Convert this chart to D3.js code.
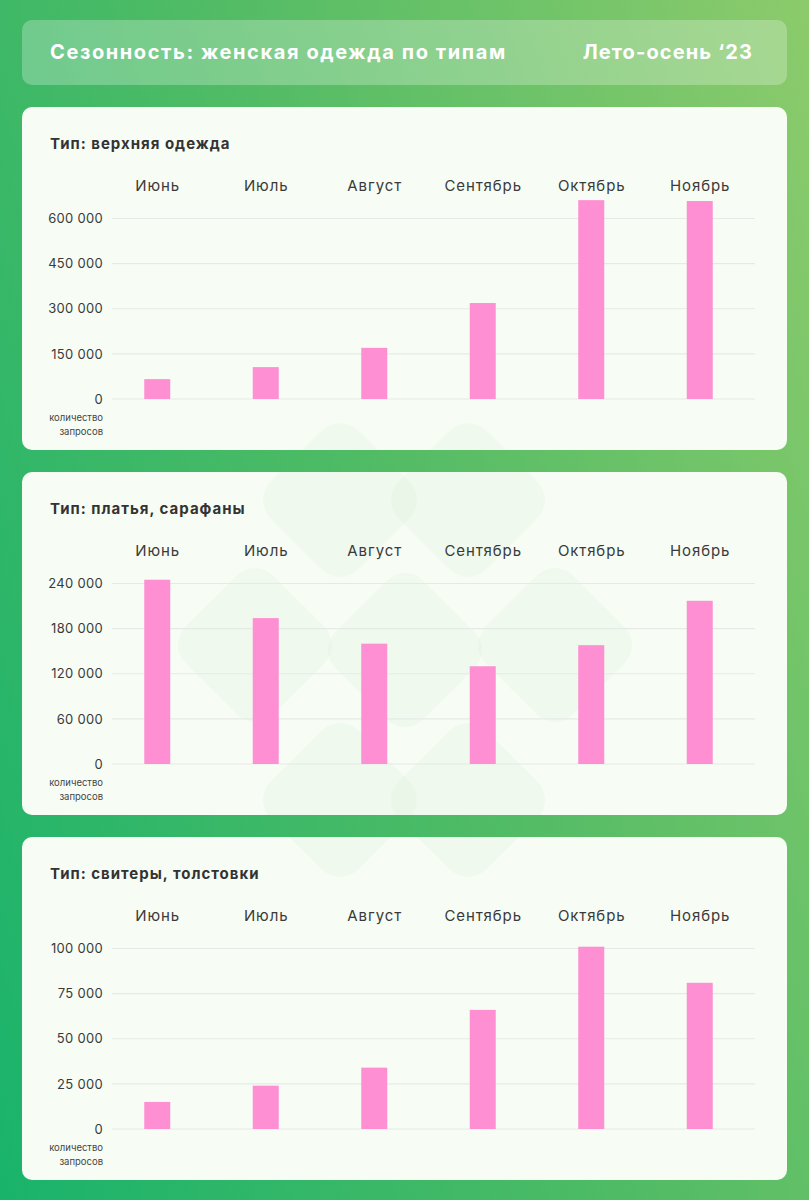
<!DOCTYPE html>
<html>
<head>
<meta charset="utf-8">
<script src="https://cdn.jsdelivr.net/npm/d3@7"></script>
<style>
  body { margin: 0; padding: 0; }
  svg { display: block; font-family: Inter, "Noto Sans", sans-serif; }
</style>
</head>
<body>
<svg id="chart" width="809" height="1200"></svg>
<script>
const months = ["Июнь", "Июль", "Август", "Сентябрь", "Октябрь", "Ноябрь"];

const titles = ["Тип: верхняя одежда", "Тип: платья, сарафаны", "Тип: свитеры, толстовки"];

// search counts
const outerwear = [66000, 106000, 170000, 319000, 661000, 658000];
const dresses = [245000, 194000, 160000, 130000, 158000, 217000];
const sweaters = [15000, 24000, 34000, 66000, 101000, 81000];

const ticksOuter = [0, 150000, 300000, 450000, 600000];
const ticksDress = [0, 60000, 120000, 180000, 240000];
const ticksSweat = [0, 25000, 50000, 75000, 100000];

const W = 809;
const H = 1200;
const CARD_X = 22;
const CARD_W = 765;
const CARD_H = 343;
const cardTops = [107, 472, 837];

const svg = d3.select("#chart");
const defs = svg.append("defs");

// background gradient
const bg = defs.append("linearGradient")
  .attr("id", "bg")
  .attr("gradientUnits", "userSpaceOnUse")
  .attr("x1", 0).attr("y1", 1200)
  .attr("x2", 1100).attr("y2", 800);
bg.append("stop").attr("offset", 0).attr("stop-color", "#19b36b");
bg.append("stop").attr("offset", 0.5).attr("stop-color", "#4fbb65");
bg.append("stop").attr("offset", 1).attr("stop-color", "#8ccb6c");

svg.append("rect").attr("width", W).attr("height", H).attr("fill", "url(#bg)");

// header
svg.append("rect")
  .attr("x", CARD_X).attr("y", 20)
  .attr("width", CARD_W).attr("height", 65)
  .attr("rx", 10)
  .attr("fill", "#ffffff")
  .attr("fill-opacity", 0.26);

svg.append("text")
  .attr("x", 50).attr("y", 59)
  .attr("fill", "#fff")
  .style("font-size", "20px")
  .style("font-weight", 700)
  .style("letter-spacing", "1.6px")
  .text("Сезонность: женская одежда по типам");

svg.append("text")
  .attr("x", 753).attr("y", 59)
  .attr("fill", "#fff")
  .attr("text-anchor", "end")
  .style("font-size", "20px")
  .style("font-weight", 700)
  .style("letter-spacing", "1.1px")
  .text("Лето-осень ‘23");

// clip for watermark, only over cards
const clip = defs.append("clipPath").attr("id", "cards");
cardTops.forEach((t) => {
  clip.append("rect")
    .attr("x", CARD_X).attr("y", t)
    .attr("width", CARD_W).attr("height", CARD_H)
    .attr("rx", 10);
});

// cards
svg.selectAll("rect.card")
  .data(cardTops)
  .join("rect")
  .attr("class", "card")
  .attr("x", CARD_X)
  .attr("y", (d) => d)
  .attr("width", CARD_W)
  .attr("height", CARD_H)
  .attr("rx", 10)
  .attr("fill", "#f7fdf5");

// faint logo in the middle (rounded diamonds)
const marks = [
  [340, 500], [468, 500],
  [255, 645], [405, 650], [555, 645],
  [340, 800], [468, 800],
];
const wm = svg.append("g").attr("clip-path", "url(#cards)");
wm.selectAll("rect")
  .data(marks)
  .join("rect")
  .attr("x", -62).attr("y", -62)
  .attr("width", 124).attr("height", 124)
  .attr("rx", 26)
  .attr("fill", "#dcefdb")
  .attr("fill-opacity", 0.28)
  .attr("transform", (d) => `translate(${d[0]},${d[1]}) rotate(45)`);

const x = d3.scaleBand()
  .domain(months)
  .range([103, 754])
  .paddingInner(0)
  .paddingOuter(0);

const BAR_W = 26;

function panel(top, title, values, ticks) {
  const g = svg.append("g");

  g.append("text")
    .attr("x", 50).attr("y", top + 42)
    .attr("fill", "#333")
    .style("font-size", "15px")
    .style("font-weight", 700)
    .style("letter-spacing", "1px")
    .text(title);

  const y = d3.scaleLinear()
    .domain([0, d3.max(ticks)])
    .range([top + 292, top + 111.5]);

  // gridlines
  g.selectAll("line.grid")
    .data(ticks)
    .join("line")
    .attr("class", "grid")
    .attr("x1", 112).attr("x2", 755)
    .attr("y1", (d) => y(d)).attr("y2", (d) => y(d))
    .attr("stroke", "#e6eae6")
    .attr("stroke-width", 1.2);

  // y axis labels
  const yAxis = d3.axisLeft(y)
    .tickValues(ticks)
    .tickSize(0)
    .tickPadding(0)
    .tickFormat((d) => d3.format(",")(d).replace(/,/g, " "));
  const ya = g.append("g")
    .attr("transform", "translate(103,0)")
    .call(yAxis);
  ya.select(".domain").remove();
  ya.selectAll("text")
    .attr("fill", "#3a3a3a")
    .style("font-family", "Inter, 'Noto Sans', sans-serif")
    .style("font-size", "13px")
    .style("letter-spacing", "0.3px");

  // months on top
  const xAxis = d3.axisTop(x).tickSize(0).tickPadding(0);
  const xa = g.append("g")
    .attr("transform", `translate(0,${top + 84})`)
    .call(xAxis);
  xa.select(".domain").remove();
  xa.selectAll("text")
    .attr("fill", "#3a3a3a")
    .attr("dy", 0)
    .attr("dx", "0.45px")
    .style("font-family", "Inter, 'Noto Sans', sans-serif")
    .style("font-size", "15px")
    .style("letter-spacing", "0.9px");

  // bars
  g.selectAll("rect.bar")
    .data(values)
    .join("rect")
    .attr("class", "bar")
    .attr("x", (d, i) => x(months[i]) + x.bandwidth() / 2 - BAR_W / 2)
    .attr("y", (d) => y(d))
    .attr("width", BAR_W)
    .attr("height", (d) => y(0) - y(d))
    .attr("fill", "#ff8fd3");

  g.append("text")
    .attr("x", 103).attr("y", top + 314)
    .attr("text-anchor", "end")
    .attr("fill", "#444")
    .style("font-size", "9.5px")
    .text("количество");
  g.append("text")
    .attr("x", 103).attr("y", top + 328)
    .attr("text-anchor", "end")
    .attr("fill", "#444")
    .style("font-size", "9.5px")
    .text("запросов");
}

panel(cardTops[0], titles[0], outerwear, ticksOuter);
panel(cardTops[1], titles[1], dresses, ticksDress);
panel(cardTops[2], titles[2], sweaters, ticksSweat);
</script>
</body>
</html>
